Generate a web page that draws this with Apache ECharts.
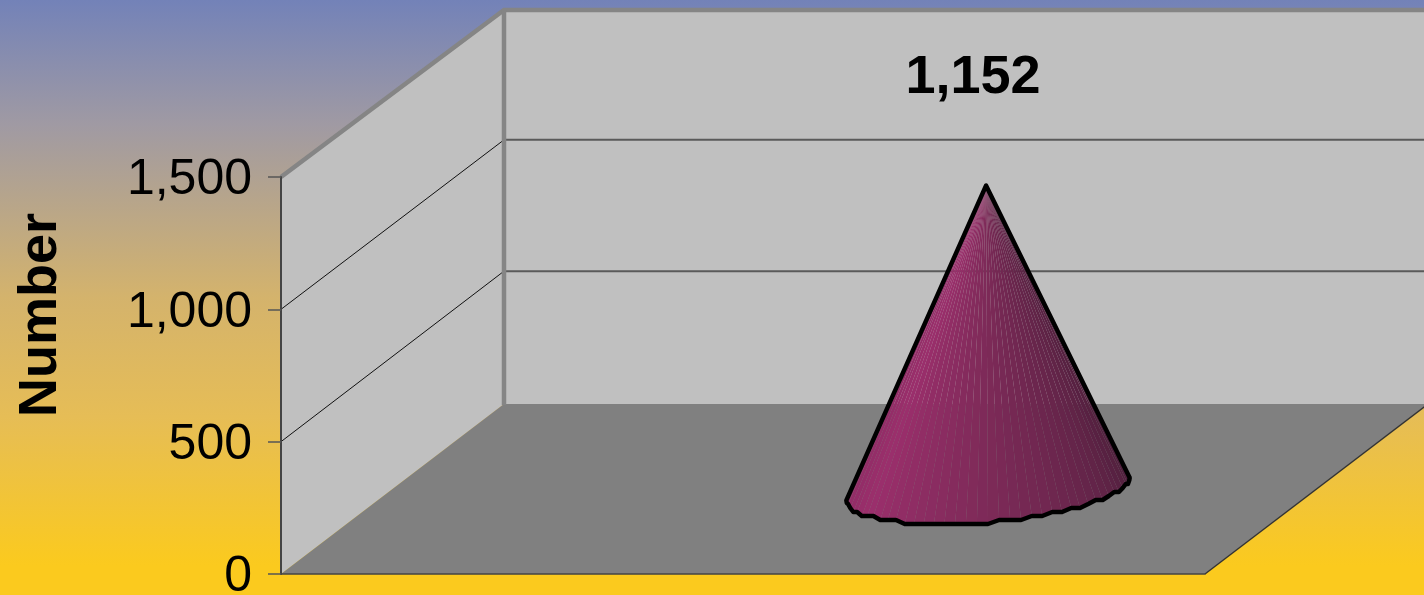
<!DOCTYPE html>
<html><head><meta charset="utf-8">
<style>html,body{margin:0;padding:0;background:#fff}#c{width:1424px;height:595px}</style>
<script src="https://cdn.jsdelivr.net/npm/echarts@6/dist/echarts.min.js"></script>
</head><body><div id="c"></div>
<script>
const yTicks = [0, 500, 1000, 1500];
const seriesValues = [1152];
const axisTitle = 'Number';

const DEPTH_X = 223, DEPTH_Y = -170, TOP_Y_FIX = 3, INNER_FIX = -1.5;
const CONE_POS = 0.6445;
const A = 134, B = 46, C = 35;
const FONT = '"Liberation Sans", Arial, sans-serif';

function lerpColor(stops, f) {
  for (let i = 1; i < stops.length; i++) {
    if (f <= stops[i][0]) {
      const p = stops[i - 1], q = stops[i], k = (f - p[0]) / (q[0] - p[0]);
      return 'rgb(' + [0, 1, 2].map(j => Math.round(p[1][j] + (q[1][j] - p[1][j]) * k)).join(',') + ')';
    }
  }
  const l = stops[stops.length - 1][1];
  return 'rgb(' + l.join(',') + ')';
}
const coneStops = [[0, [142, 44, 100]], [0.18, [155, 47, 108]], [0.5, [125, 42, 88]], [0.8, [98, 36, 72]], [1, [76, 30, 58]]];

function back(api, v, xFrac) {
  const p = api.coord([xFrac, v]);
  return [p[0] + DEPTH_X, p[1] + DEPTH_Y + TOP_Y_FIX * v / yTicks[yTicks.length - 1]];
}
function renderWalls(params, api) {
  const top = yTicks[yTicks.length - 1];
  const f0 = api.coord([0, 0]), f1 = api.coord([1, 0]), t0 = api.coord([0, top]);
  const b0 = back(api, 0, 0), b1 = back(api, 0, 1), bt0 = back(api, top, 0), bt1 = back(api, top, 1);
  const kids = [
    { type: 'polygon', shape: { points: [bt0, bt1, b1, b0] }, style: { fill: '#c0c0c0' } },
    { type: 'polygon', shape: { points: [t0, bt0, b0, f0] }, style: { fill: '#c0c0c0' } },
    { type: 'polygon', shape: { points: [f0, f1, b1, b0] }, style: { fill: '#808080' } }
  ];
  yTicks.slice(1, -1).forEach(v => {
    const a = api.coord([0, v]), b = back(api, v, 0), e = back(api, v, 1);
    b[1] += INNER_FIX; e[1] += INNER_FIX;
    kids.push({ type: 'polyline', shape: { points: [a, b] }, style: { fill: null, stroke: '#111', lineWidth: 1 } });
    kids.push({ type: 'polyline', shape: { points: [b, e] }, style: { fill: null, stroke: '#5a5a5a', lineWidth: 2 } });
  });
  kids.push({ type: 'polyline', shape: { points: [f1, b1] }, style: { fill: null, stroke: '#333', lineWidth: 1.4 } });
  kids.push({ type: 'polyline', shape: { points: [t0, bt0, bt1] }, style: { fill: null, stroke: '#858585', lineWidth: 4.5, lineJoin: 'miter' } });
  kids.push({ type: 'polyline', shape: { points: [bt0, [b0[0], b0[1] + 1]] }, style: { fill: null, stroke: '#858585', lineWidth: 4.5 } });
  return { type: 'group', children: kids };
}
function renderCone(params, api) {
  const v = api.value(1), x = api.value(0);
  const base = api.coord([x, 0]), tip = api.coord([x, v]);
  const cx = base[0] + DEPTH_X / 2, cy = base[1] + DEPTH_Y / 2;
  const apex = [tip[0] + DEPTH_X / 2 - 2, tip[1] + DEPTH_Y / 2 + 1.5];
  const tan = Math.atan2(B, A), N = 40, rim = [];
  for (let i = 0; i <= N; i++) {
    const t = Math.PI + tan + Math.PI * i / N;
    const y = cy - C * Math.sin(t);
    rim.push([cx + A * Math.cos(t) + B * Math.sin(t), (i < 2 || i > N - 2) ? y : Math.round(y / 4) * 4]);
  }
  const kids = [];
  for (let i = 0; i < N; i++) {
    kids.push({ type: 'polygon', shape: { points: [apex, rim[i], rim[i + 1]] },
      style: { fill: lerpColor(coneStops, (i + 0.5) / N) } });
  }
  kids.push({ type: 'polyline', shape: { points: [rim[N], apex, rim[0]].concat(rim.slice(1)) },
    style: { fill: null, stroke: '#000', lineWidth: 4.5, lineJoin: 'round', lineCap: 'round' } });
  kids.push({ type: 'text', style: { x: tip[0] + DEPTH_X / 2 - 15, y: tip[1] + DEPTH_Y / 2 - 106,
    text: v.toLocaleString('en-US'), font: 'bold 54px ' + FONT, fill: '#000', align: 'center', verticalAlign: 'middle' } });
  return { type: 'group', children: kids };
}

const chart = echarts.init(document.getElementById('c'), null, { renderer: 'canvas' });
chart.setOption({
  animation: false,
  backgroundColor: { type: 'linear', x: 0, y: 0, x2: 0, y2: 1, colorStops: [
    { offset: 0, color: '#7382b8' }, { offset: 0.21, color: '#a09aa3' },
    { offset: 0.5, color: '#d4b36c' }, { offset: 0.7, color: '#e6bd56' },
    { offset: 0.95, color: '#fbca1e' }, { offset: 1, color: '#fbca1e' } ] },
  grid: { left: 281, right: 219, top: 177, bottom: 21, containLabel: false, outerBoundsMode: 'none' },
  xAxis: { type: 'value', min: 0, max: 1, z: 5, splitLine: { show: false }, axisTick: { show: false }, axisLabel: { show: false },
    axisLine: { show: true, lineStyle: { color: '#444', width: 1.5 } } },
  yAxis: { type: 'value', min: 0, max: 1500, interval: 500, z: 5, splitLine: { show: false },
    axisLine: { show: true, lineStyle: { color: '#444', width: 2 } },
    axisTick: { show: true, length: 13, lineStyle: { color: '#555', width: 1.5 } },
    axisLabel: { margin: 29, color: '#000',
      rich: { t: { fontFamily: FONT, fontSize: 50, color: '#000', padding: [7, 0, 0, 0] } },
      formatter: v => '{t|' + v.toLocaleString('en-US') + '}' } },
  graphic: [{ type: 'text', x: 41, y: 315, rotation: Math.PI / 2,
    style: { text: axisTitle, font: 'bold 54px ' + FONT, fill: '#000', align: 'center', verticalAlign: 'middle' } }],
  series: [
    { type: 'custom', z: 2, silent: true, clip: false, coordinateSystem: 'cartesian2d', renderItem: renderWalls, data: [[0, 0]] },
    { type: 'custom', z: 3, silent: true, clip: false, coordinateSystem: 'cartesian2d', renderItem: renderCone,
      encode: { x: 0, y: 1 }, data: seriesValues.map(v => [CONE_POS, v]) }
  ]
});
</script></body></html>
